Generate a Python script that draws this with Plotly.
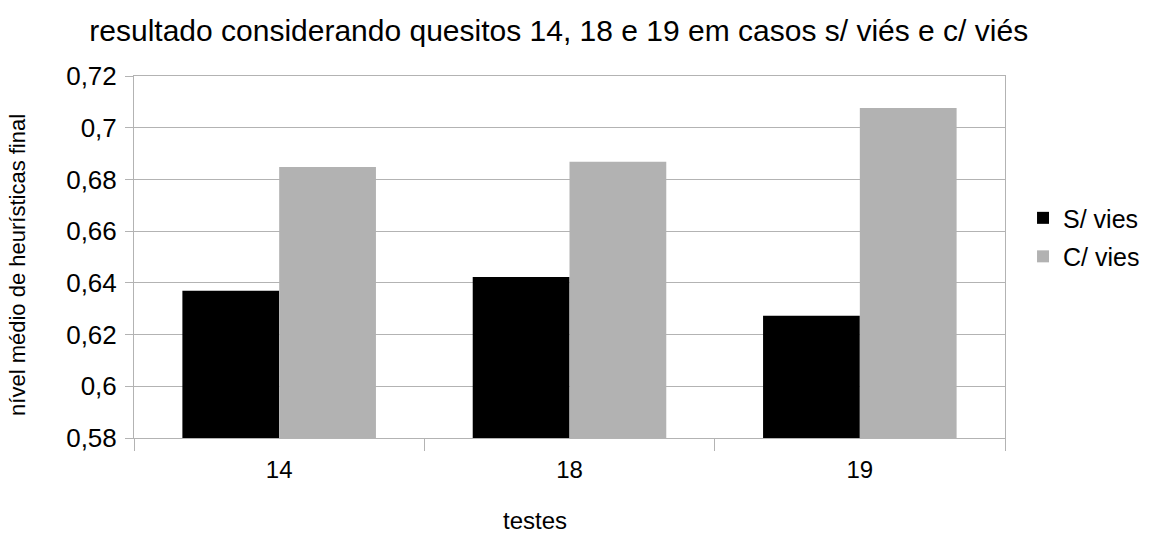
import plotly.graph_objects as go

# Tests and mean final heuristic level per scenario
testes = ["14", "18", "19"]
sem_vies = [0.6369, 0.6423, 0.6273]
com_vies = [0.6848, 0.6868, 0.7076]

y_ticks = [0.58, 0.60, 0.62, 0.64, 0.66, 0.68, 0.70, 0.72]
y_tick_text = ["0,58", "0,6", "0,62", "0,64", "0,66", "0,68", "0,7", "0,72"]

font_family = "Liberation Sans, Arial, sans-serif"
grid_color = "#b3b3b3"

fig = go.Figure()
fig.add_trace(go.Bar(x=testes, y=sem_vies, name="S/ vies", marker_color="#000000",
                     marker_line_width=0, legendgroup="a"))
fig.add_trace(go.Bar(x=testes, y=com_vies, name="C/ vies", marker_color="#b2b2b2",
                     marker_line_width=0, legendgroup="b"))

fig.update_layout(
    width=1152, height=534,
    margin=dict(l=134, r=147, t=76, b=96, autoexpand=False),
    paper_bgcolor="white", plot_bgcolor="white",
    font=dict(family=font_family, size=23, color="#000000"),
    barmode="group", bargap=1/3, bargroupgap=0,
    title=dict(text="resultado considerando quesitos 14, 18 e 19 em casos s/ viés e c/ viés",
               x=0.485, xanchor="center", y=0.942, yanchor="middle",
               font=dict(size=30)),
    legend=dict(x=1.0207, xanchor="left", y=0.555, yanchor="middle",
                traceorder="grouped", tracegroupgap=3,
                font=dict(size=25), bgcolor="rgba(0,0,0,0)"),
    annotations=[
        dict(text="nível médio de heurísticas final", textangle=-90,
             xref="paper", yref="paper", x=-0.1332, y=0.478,
             xanchor="center", yanchor="middle", showarrow=False,
             font=dict(size=22)),
        dict(text="testes", xref="paper", yref="paper", x=0.4604, y=-0.229,
             xanchor="center", yanchor="middle", showarrow=False,
             font=dict(size=24)),
    ],
)

fig.update_yaxes(
    range=[0.58, 0.72], tickvals=y_ticks, ticktext=y_tick_text,
    showgrid=True, gridcolor=grid_color, gridwidth=1,
    showline=True, linecolor=grid_color, linewidth=1, mirror=True,
    ticks="outside", ticklen=8, tickcolor=grid_color, ticklabelstandoff=3,
    tickfont=dict(size=26), zeroline=False,
)
fig.update_xaxes(
    showgrid=False, showline=True, linecolor=grid_color, linewidth=1, mirror=True,
    ticks="outside", ticklen=12, tickcolor=grid_color, tickson="boundaries",
    ticklabelstandoff=10, tickfont=dict(size=24),
)

fig.write_html("out.html")
